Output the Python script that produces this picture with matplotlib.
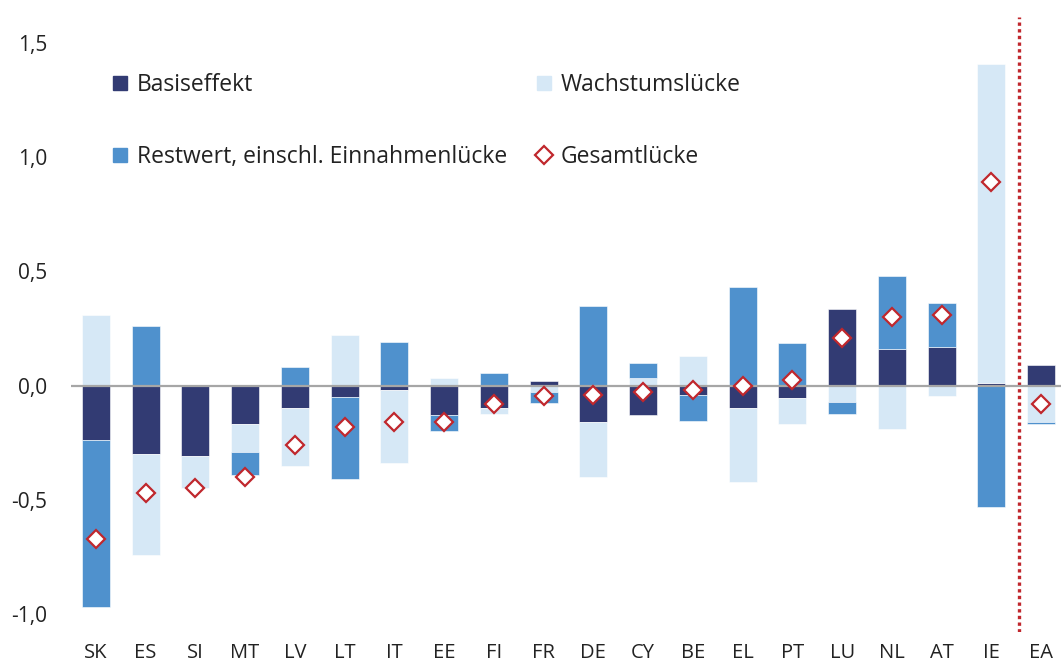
import matplotlib
matplotlib.use("Agg")
import matplotlib.pyplot as plt
import numpy as np
from matplotlib.patches import Patch
from matplotlib.lines import Line2D
from matplotlib.ticker import FixedLocator, FuncFormatter

plt.rcParams['font.family'] = ['Open Sans', 'DejaVu Sans']

categories = ["SK", "ES", "SI", "MT", "LV", "LT", "IT", "EE", "FI", "FR",
              "DE", "CY", "BE", "EL", "PT", "LU", "NL", "AT", "IE", "EA"]
basiseffekt = [-0.24, -0.30, -0.31, -0.17, -0.10, -0.05, -0.02, -0.13, -0.10, 0.02,
               -0.16, -0.13, -0.04, -0.10, -0.055, 0.335, 0.16, 0.17, 0.01, 0.09]
wachstumsluecke = [0.31, -0.44, -0.14, -0.12, -0.25, 0.22, -0.32, 0.035, -0.025, -0.03,
                   -0.24, 0.035, 0.13, -0.32, -0.115, -0.07, -0.19, -0.045, 1.40, -0.16]
restwert = [-0.73, 0.26, 0.0, -0.10, 0.08, -0.36, 0.19, -0.07, 0.055, -0.045,
            0.35, 0.065, -0.115, 0.43, 0.185, -0.055, 0.32, 0.19, -0.53, -0.01]
gesamtluecke = [-0.67, -0.47, -0.45, -0.40, -0.26, -0.18, -0.16, -0.16, -0.08, -0.045,
                -0.04, -0.03, -0.02, 0.0, 0.025, 0.21, 0.30, 0.31, 0.89, -0.08]

series_labels = ["Basiseffekt", "Wachstumslücke", "Restwert, einschl. Einnahmenlücke"]
series_values = [basiseffekt, wachstumsluecke, restwert]
series_colors = ["#323B73", "#D6E8F6", "#4F91CD"]
gesamt_label = "Gesamtlücke"
red = "#C0272D"

W, H = 1061, 662
fig = plt.figure(figsize=(W / 100, H / 100), dpi=100)
ax = fig.add_axes([71 / W, (H - 632) / H, 995 / W, 615 / H])

x = np.arange(len(categories))
pos_bottom = np.zeros(len(categories))
neg_bottom = np.zeros(len(categories))
for vals, col, lab in zip(series_values, series_colors, series_labels):
    v = np.array(vals, dtype=float)
    bottoms = np.where(v >= 0, pos_bottom, neg_bottom)
    ax.bar(x, v, width=0.56, bottom=bottoms, color=col, label=lab,
           edgecolor="white", linewidth=0.4, zorder=2)
    pos_bottom += np.where(v >= 0, v, 0)
    neg_bottom += np.where(v < 0, v, 0)

ax.axhline(0, color="#A6A6A6", linewidth=1.6, zorder=3)
ax.plot(x, gesamtluecke, linestyle="none", marker="D", markersize=9.2,
        markerfacecolor="white", markeredgecolor=red, markeredgewidth=1.6,
        zorder=4, label=gesamt_label)
ax.axvline(18.55, color=red, linestyle=(0, (1, 1)), linewidth=2.4, zorder=1)

ax.set_xlim(-0.5, 19.5)
ax.set_ylim(-1.079, 1.614)
ax.yaxis.set_major_locator(FixedLocator([-1.0, -0.5, 0.0, 0.5, 1.0, 1.5]))
ax.yaxis.set_major_formatter(FuncFormatter(lambda v, p: f"{v:.1f}".replace(".", ",")))
ax.set_xticks(x)
ax.set_xticklabels(categories)
ax.tick_params(axis="y", length=0, pad=17, labelsize=15, labelcolor="#222222")
ax.tick_params(axis="x", length=0, pad=8, labelsize=14.5, labelcolor="#222222")
for s in ax.spines.values():
    s.set_visible(False)

handles = [Patch(color=series_colors[0]), Patch(color=series_colors[2]),
           Patch(color=series_colors[1]),
           Line2D([], [], linestyle="none", marker="D", markersize=9.2,
                  markerfacecolor="white", markeredgecolor=red, markeredgewidth=1.6)]
labels = [series_labels[0], series_labels[2], series_labels[1], gesamt_label]
leg = fig.legend(handles, labels, ncol=2, frameon=False, loc="upper left",
                 bbox_to_anchor=(113 / W, 1 - 73 / H), fontsize=16.5,
                 handlelength=0.62, handleheight=0.62, handletextpad=0.42,
                 labelspacing=2.1, columnspacing=1.3, borderpad=0, borderaxespad=0)
for t in leg.get_texts():
    t.set_color("#222222")

fig.savefig("out.png", dpi=100)
